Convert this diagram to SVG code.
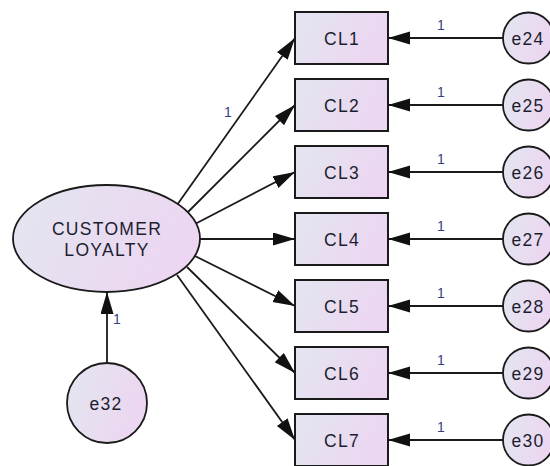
<svg xmlns="http://www.w3.org/2000/svg" width="550" height="466" viewBox="0 0 550 466">
  <defs>
    <linearGradient id="fill" x1="0" y1="0" x2="1" y2="0.3">
      <stop offset="0" stop-color="#e3e6f0"/>
      <stop offset="1" stop-color="#ecd6f1"/>
    </linearGradient>
    <marker id="arr" markerUnits="userSpaceOnUse" markerWidth="24" markerHeight="14" refX="22" refY="6.5" orient="auto">
      <path d="M0,0 L22,6.5 L0,13 z" fill="#111"/>
    </marker>
    <style>
      .box { fill: url(#fill); stroke: #1a1a1a; stroke-width: 2; }
      .ell { fill: url(#fill); stroke: #1a1a1a; stroke-width: 1.8; }
      .lbl { font-family: "Liberation Sans", Arial, sans-serif; font-size: 17.5px; fill: #1c1e30; text-anchor: middle; letter-spacing: 1.3px; }
      .one { font-family: "Liberation Sans", Arial, sans-serif; font-size: 14px; fill: #34427f; text-anchor: middle; }
      .con { stroke: #1a1a1a; stroke-width: 1.8; fill: none; marker-end: url(#arr); }
    </style>
  </defs>
  <rect width="550" height="466" fill="#ffffff"/>

  <g id="connectors">
    <line class="con" x1="177" y1="205" x2="295" y2="38"/>
    <line class="con" x1="187" y1="213" x2="295" y2="105"/>
    <line class="con" x1="195" y1="224" x2="295" y2="172"/>
    <line class="con" x1="199" y1="239" x2="295" y2="239"/>
    <line class="con" x1="195" y1="256" x2="295" y2="306"/>
    <line class="con" x1="187" y1="267" x2="295" y2="373"/>
    <line class="con" x1="177" y1="275" x2="295" y2="440"/>
    <line class="con" x1="503" y1="38" x2="388" y2="38"/>
    <line class="con" x1="503" y1="105" x2="388" y2="105"/>
    <line class="con" x1="503" y1="172" x2="388" y2="172"/>
    <line class="con" x1="503" y1="239" x2="388" y2="239"/>
    <line class="con" x1="503" y1="306" x2="388" y2="306"/>
    <line class="con" x1="503" y1="373" x2="388" y2="373"/>
    <line class="con" x1="503" y1="440" x2="388" y2="440"/>
    <line class="con" x1="107" y1="363" x2="107" y2="292"/>
    <text class="one" x="228" y="117">1</text>
    <text class="one" x="441" y="30">1</text>
    <text class="one" x="441" y="97">1</text>
    <text class="one" x="441" y="164">1</text>
    <text class="one" x="441" y="231">1</text>
    <text class="one" x="441" y="298">1</text>
    <text class="one" x="441" y="365">1</text>
    <text class="one" x="441" y="432">1</text>
    <text class="one" x="117" y="324">1</text>
  </g>

  <g id="customer_loyalty">
    <ellipse class="ell" cx="106.5" cy="238.5" rx="93.5" ry="53.5"/>
    <text class="lbl" x="107" y="235">CUSTOMER</text>
    <text class="lbl" x="107" y="256">LOYALTY</text>
  </g>

  <g id="CL1"><rect class="box" x="295" y="12" width="93" height="52"/><text class="lbl" x="342" y="45">CL1</text></g>
  <g id="CL2"><rect class="box" x="295" y="79" width="93" height="52"/><text class="lbl" x="342" y="112">CL2</text></g>
  <g id="CL3"><rect class="box" x="295" y="146" width="93" height="52"/><text class="lbl" x="342" y="179">CL3</text></g>
  <g id="CL4"><rect class="box" x="295" y="213" width="93" height="52"/><text class="lbl" x="342" y="246">CL4</text></g>
  <g id="CL5"><rect class="box" x="295" y="280" width="93" height="52"/><text class="lbl" x="342" y="313">CL5</text></g>
  <g id="CL6"><rect class="box" x="295" y="347" width="93" height="52"/><text class="lbl" x="342" y="380">CL6</text></g>
  <g id="CL7"><rect class="box" x="295" y="414" width="93" height="52"/><text class="lbl" x="342" y="447">CL7</text></g>

  <g id="e24"><circle class="ell" cx="528.5" cy="38" r="25.5"/><text class="lbl" x="528" y="45">e24</text></g>
  <g id="e25"><circle class="ell" cx="528.5" cy="105" r="25.5"/><text class="lbl" x="528" y="112">e25</text></g>
  <g id="e26"><circle class="ell" cx="528.5" cy="172" r="25.5"/><text class="lbl" x="528" y="179">e26</text></g>
  <g id="e27"><circle class="ell" cx="528.5" cy="239" r="25.5"/><text class="lbl" x="528" y="246">e27</text></g>
  <g id="e28"><circle class="ell" cx="528.5" cy="306" r="25.5"/><text class="lbl" x="528" y="313">e28</text></g>
  <g id="e29"><circle class="ell" cx="528.5" cy="373" r="25.5"/><text class="lbl" x="528" y="380">e29</text></g>
  <g id="e30"><circle class="ell" cx="528.5" cy="440" r="25.5"/><text class="lbl" x="528" y="447">e30</text></g>

  <g id="e32"><circle class="ell" cx="107" cy="403" r="40"/><text class="lbl" x="106" y="410">e32</text></g>
</svg>
